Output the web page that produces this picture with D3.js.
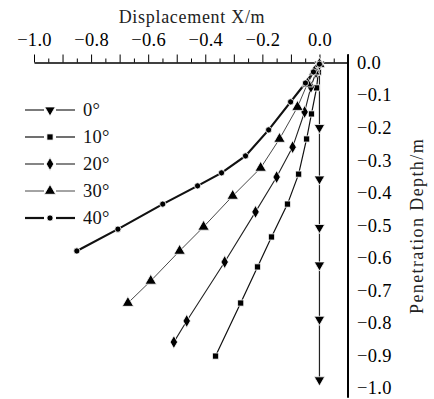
<!DOCTYPE html>
<html>
<head>
<meta charset="utf-8">
<script src="https://cdn.jsdelivr.net/npm/d3@7"></script>
<style>
  body { margin: 0; background: #fff; }
  svg { display: block; font-family: "Liberation Serif", "Times New Roman", serif; }
</style>
</head>
<body>
<figure id="chart" style="margin:0"></figure>
<script>
// series: displacement X (m) vs penetration depth (m)
const angles = ["0°", "10°", "20°", "30°", "40°"];

const x0 = [0, 0, 0, 0, 0, 0, 0];
const d0 = [-0.005, -0.2, -0.358, -0.507, -0.622, -0.789, -0.975];

const x10 = [0, -0.004, -0.01, -0.028, -0.045, -0.073, -0.112, -0.168, -0.217, -0.276, -0.364];
const d10 = [-0.005, -0.03, -0.078, -0.158, -0.235, -0.343, -0.435, -0.536, -0.628, -0.739, -0.902];

const x20 = [0, -0.012, -0.03, -0.052, -0.094, -0.15, -0.224, -0.332, -0.465, -0.51];
const d20 = [-0.005, -0.03, -0.075, -0.152, -0.26, -0.352, -0.459, -0.613, -0.794, -0.859];

const x30 = [0, -0.018, -0.042, -0.077, -0.14, -0.206, -0.304, -0.406, -0.49, -0.591, -0.671];
const d30 = [-0.005, -0.028, -0.065, -0.137, -0.235, -0.324, -0.41, -0.505, -0.579, -0.671, -0.739];

const x40 = [0, -0.021, -0.049, -0.101, -0.178, -0.259, -0.343, -0.427, -0.549, -0.706, -0.85];
const d40 = [-0.005, -0.029, -0.063, -0.121, -0.207, -0.287, -0.339, -0.379, -0.435, -0.512, -0.579];

const xLabels = [-1.0, -0.8, -0.6, -0.4, -0.2, 0.0];
const yLabels = [0.0, -0.1, -0.2, -0.3, -0.4, -0.5, -0.6, -0.7, -0.8, -0.9, -1.0];

const series = [
  { name: angles[0], xs: x0, ds: d0, symbol: "down", lw: 1.2, color: "#222" },
  { name: angles[1], xs: x10, ds: d10, symbol: "square", lw: 1.2, color: "#111" },
  { name: angles[2], xs: x20, ds: d20, symbol: "diamond", lw: 1.1, color: "#222" },
  { name: angles[3], xs: x30, ds: d30, symbol: "up", lw: 0.9, color: "#333" },
  { name: angles[4], xs: x40, ds: d40, symbol: "circle", lw: 2.2, color: "#111" }
];

const width = 434, height = 399;
const svg = d3.select("#chart").append("svg")
  .attr("width", width).attr("height", height);

const x = d3.scaleLinear([-1, 0.1], [34, 348]);
const y = d3.scaleLinear([0, -1], [62.5, 388]);
const fmt = d3.format(".1f");

// top axis: major ticks every 0.1, minor every 0.05
svg.append("g")
  .attr("transform", `translate(0,${y(0)})`)
  .call(d3.axisTop(x).tickValues(d3.range(-0.95, 0.1, 0.1)).tickSize(4).tickFormat(""))
  .call(g => g.select(".domain").remove());
svg.append("g")
  .attr("transform", `translate(0,${y(0)})`)
  .call(d3.axisTop(x).tickValues(d3.range(-1, 0.11, 0.1)).tickSize(8).tickSizeOuter(0).tickFormat(""))
  .call(g => g.select(".domain").attr("stroke-width", 1.5));
svg.append("g")
  .attr("transform", `translate(0,${y(0)})`)
  .call(d3.axisTop(x).tickValues(xLabels).tickSize(0).tickPadding(17).tickFormat(fmt))
  .call(g => g.select(".domain").remove())
  .call(g => g.selectAll("text").attr("font-size", 18.5).attr("fill", "#000")
    .attr("font-family", "Liberation Serif").attr("letter-spacing", 0.3));

// right axis
svg.append("line")
  .attr("x1", x(0.1)).attr("x2", x(0.1))
  .attr("y1", y(0.025)).attr("y2", y(-1.03))
  .attr("stroke", "#000").attr("stroke-width", 2);
svg.append("g")
  .attr("transform", `translate(${x(0.1)},0)`)
  .call(d3.axisRight(y).tickValues(yLabels).tickSize(0).tickPadding(9).tickFormat(fmt))
  .call(g => g.select(".domain").remove())
  .call(g => g.selectAll("text").attr("font-size", 18.5).attr("fill", "#000")
    .attr("font-family", "Liberation Serif").attr("letter-spacing", 0.3));

// titles
svg.append("text")
  .attr("x", 192).attr("y", 23)
  .attr("text-anchor", "middle")
  .attr("font-size", 18).attr("letter-spacing", 0.7).attr("fill", "#222")
  .text("Displacement X/m");
svg.append("text")
  .attr("transform", `translate(423,226) rotate(-90)`)
  .attr("text-anchor", "middle")
  .attr("font-size", 18).attr("letter-spacing", 1.4).attr("fill", "#222")
  .text("Penetration Depth/m");

// marker paths
function marker(sel, sym) {
  const types = {
    down: d3.symbolTriangle, up: d3.symbolTriangle,
    square: d3.symbolSquare, diamond: d3.symbolDiamond, circle: d3.symbolCircle
  };
  const sizes = { down: 48, up: 56, square: 38, diamond: 48, circle: 30 };
  sel.append("path")
    .attr("d", d3.symbol(types[sym], sizes[sym])())
    .attr("transform", sym === "down" ? "rotate(180)" : null)
    .attr("fill", "#000")
    .attr("stroke", "#fff")
    .attr("stroke-width", 0.8);
}

const line = d3.line().x(d => x(d[0])).y(d => y(d[1]));

const plot = svg.append("g");
series.forEach(s => {
  const pts = d3.zip(s.xs, s.ds);
  plot.append("path")
    .attr("d", line(pts))
    .attr("fill", "none")
    .attr("stroke", s.color)
    .attr("stroke-width", s.lw);
});
series.forEach(s => {
  const pts = d3.zip(s.xs, s.ds);
  plot.selectAll(null)
    .data(pts)
    .join("g")
    .attr("transform", d => `translate(${x(d[0])},${y(d[1])})`)
    .each(function () { marker(d3.select(this), s.symbol); });
});

// legend
const legend = svg.append("g");
series.forEach((s, i) => {
  const ly = 110 + i * 27;
  const g = legend.append("g").attr("transform", `translate(25,${ly})`);
  g.append("line").attr("x1", 0).attr("x2", 19).attr("stroke", s.color).attr("stroke-width", s.lw);
  g.append("line").attr("x1", 31).attr("x2", 50).attr("stroke", s.color).attr("stroke-width", s.lw);
  marker(g.append("g").attr("transform", "translate(25,0)"), s.symbol);
  g.append("text")
    .attr("x", 58).attr("dy", "0.35em")
    .attr("font-size", 18.5).attr("letter-spacing", 0.3).attr("fill", "#111")
    .text(s.name);
});
</script>
</body>
</html>
